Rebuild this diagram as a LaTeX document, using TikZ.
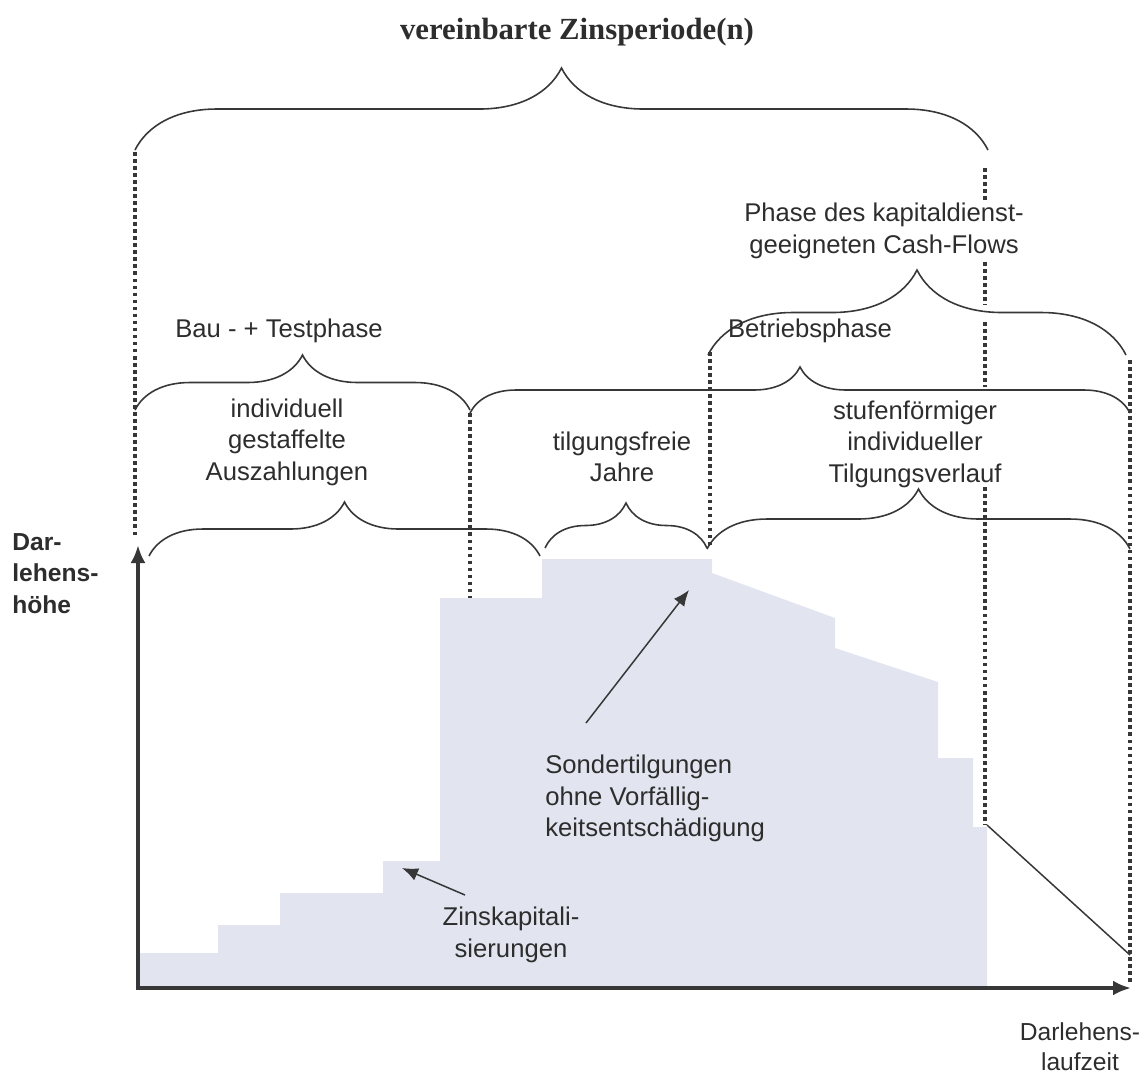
\documentclass[tikz,border=0pt]{standalone}
\usepackage{fontspec}
\setmainfont{Liberation Sans}
\newfontfamily\titelfont{Liberation Serif}
\usetikzlibrary{arrows.meta,decorations.pathreplacing}
\definecolor{flaeche}{RGB}{226,229,239}
\definecolor{linie}{RGB}{55,55,55}
\definecolor{schrift}{RGB}{45,45,45}
\tikzset{
  txt/.style={text=schrift, font=\fontsize{14.6}{17.9}\selectfont, align=center, inner sep=0pt},
  klammer/.style={draw=linie, line width=0.9pt, decorate, decoration={brace, amplitude=#1}},
  punktlinie/.style={draw=linie, line width=2.3pt, dash pattern=on 2.1pt off 1.9pt},
  achse/.style={draw=linie, line width=2.2pt, -{Latex[length=3.6mm, width=3mm]}},
  pfeil/.style={draw=linie, line width=0.85pt, -{Latex[length=3.2mm, width=2.6mm]}}
}
\begin{document}
\begin{tikzpicture}[x=0.02cm, y=-0.02cm]
\useasboundingbox (0,0) rectangle (1139,1079);
% Darlehensverlauf
\fill[flaeche] (140,988) -- (140,953) -- (218,953) -- (218,925) -- (280,925) -- (280,893)
  -- (383,893) -- (383,861) -- (440,861) -- (440,598) -- (542,598) -- (542,559)
  -- (712,559) -- (712,573) -- (835,618) -- (835,648) -- (938,682) -- (938,758)
  -- (973,758) -- (973,827) -- (987,827) -- (987,988) -- cycle;
% Trennlinien
\draw[punktlinie] (135,152) -- (135,537);
\draw[punktlinie] (470,413) -- (470,598);
\draw[punktlinie] (710,352) -- (710,548);
\draw[punktlinie] (1130,360) -- (1130,982);
\draw[punktlinie] (985,168) -- (985,202);
\draw[punktlinie] (985,262) -- (985,305);
\draw[punktlinie] (985,322) -- (985,387);
\draw[punktlinie] (985,487) -- (985,825);
% Auslauf der Tilgung
\draw[linie, line width=0.85pt] (987,825) -- (1130,955);
% Achsen
\draw[achse] (138,988) -- (138,545);
\draw[achse] (136,988) -- (1131,988);
% Klammern
\draw[klammer=1.64cm] (135,150) -- (988,150);
\draw[klammer=1.1cm] (135,410) -- (470,410);
\draw[klammer=1.08cm] (149,556) -- (540,556);
\draw[klammer=0.9cm] (545,548) -- (707,548);
\draw[klammer=0.92cm] (470,413) -- (1130,413);
\draw[klammer=1.7cm] (708,355) -- (1126,355);
\draw[klammer=1.2cm] (707,549) -- (1130,549);
% Beschriftungen
\node (titel) [txt, font=\titelfont\bfseries\fontsize{17.5}{20}\selectfont] at (577,32) {vereinbarte Zinsperiode(n)};
\node (bau) [txt] at (279,331) {Bau - + Testphase};
\node (ausz) [txt] at (287,442) {individuell\\gestaffelte\\Auszahlungen};
\node (tilg) [txt] at (622,457) {tilgungsfreie\\Jahre};
\node (betrieb) [txt] at (810,331) {Betriebsphase};
\node (phase) [txt] at (884,231) {Phase des kapitaldienst-\\geeigneten Cash-Flows};
\node (stufen) [txt] at (915,444) {stufenförmiger\\individueller\\Tilgungsverlauf};
\node (sonder) [txt, align=left, anchor=north west] at (545,755) {Sondertilgungen\\ohne Vorfällig-\\keitsentschädigung};
\node (zins) [txt, anchor=north] at (511,907) {Zinskapitali-\\sierungen};
\node (yachse) [txt, align=left, anchor=north west, font=\bfseries\fontsize{14}{17.9}\selectfont] at (12,533) {Dar-\\lehens-\\höhe};
\node (xachse) [txt, anchor=north, font=\fontsize{14}{17}\selectfont] at (1080,1022) {Darlehens-\\laufzeit};
% Hinweispfeile
\coordinate (sonder-z) at (689,590);
\coordinate (zins-z) at (402,868);
\draw[pfeil] ([shift={(41,-32)}]sonder.north west) -- (sonder-z);
\draw[pfeil] ([shift={(-46,-12)}]zins.north) -- (zins-z);
\end{tikzpicture}
\end{document}
